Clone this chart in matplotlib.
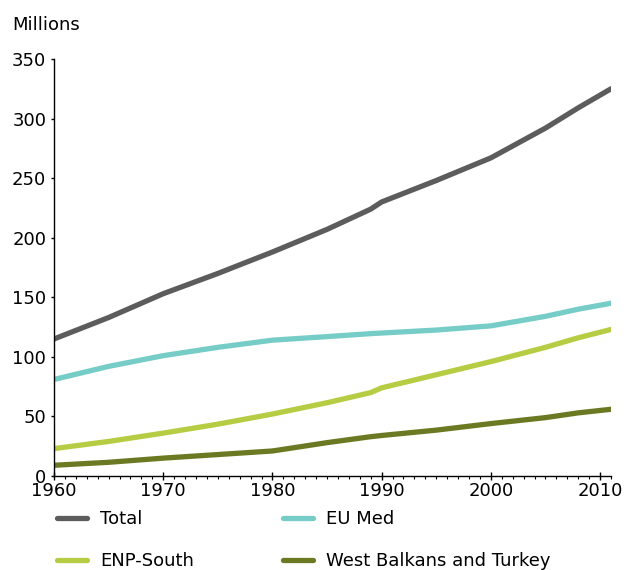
import matplotlib
matplotlib.use("Agg")
import matplotlib.pyplot as plt
from matplotlib.ticker import MultipleLocator

years = [1960, 1965, 1970, 1975, 1980, 1985, 1989, 1990, 1995, 2000, 2005, 2008, 2011]
total = [115, 133, 153, 170, 188, 207, 224, 230, 248, 267, 292, 309, 325]
eu_med = [81, 92, 101, 108, 114, 117, 119.5, 120, 122.5, 126, 134, 140, 145]
enp_south = [23, 29, 36, 43.5, 52, 61.5, 70, 74, 85, 96, 108, 116, 123]
wbt = [9, 11.5, 15, 18, 21, 28, 33, 34, 38.5, 44, 49, 53, 56]

series_labels = ["Total", "EU Med", "ENP-South", "West Balkans and Turkey"]
colors = ["#5c5c5c", "#76cdc8", "#b6cc43", "#6b7a22"]

plt.rcParams['font.family'] = ['DejaVu Sans']
fig = plt.figure(figsize=(6.28, 5.70), dpi=100)
ax = fig.add_axes([54/628, 1 - 476/570, (611 - 54)/628, (476 - 59)/570])

handles = []
for vals, lab, c in zip([total, eu_med, enp_south, wbt], series_labels, colors):
    h, = ax.plot(years, vals, color=c, lw=3.8, solid_capstyle='round',
                 solid_joinstyle='round', label=lab)
    handles.append(h)

ax.set_xlim(1960, 2011)
ax.set_ylim(0, 350)
ax.xaxis.set_major_locator(MultipleLocator(10))
ax.xaxis.set_minor_locator(MultipleLocator(1))
ax.yaxis.set_major_locator(MultipleLocator(50))
for s in ['top', 'right']:
    ax.spines[s].set_visible(False)
for s in ['left', 'bottom']:
    ax.spines[s].set_linewidth(1.0)
ax.tick_params(axis='y', which='major', labelsize=13, direction='out', length=2.5, width=1, pad=3)
ax.tick_params(axis='x', which='major', labelsize=13, direction='inout', length=6, width=1, pad=1)
ax.tick_params(axis='x', which='minor', direction='out', length=2.5, width=0.8)

fig.text(12/628, 1 - 25/570, "Millions", fontsize=13, va='center', ha='left')

order = [0, 2, 1, 3]
leg = fig.legend([handles[i] for i in order], [series_labels[i] for i in order],
                 ncol=2, loc='upper left', bbox_to_anchor=(57/628, 1 - 510/570),
                 frameon=False, fontsize=13, handlelength=1.66, labelspacing=1.32,
                 columnspacing=4.95, handletextpad=0.72, borderpad=0, borderaxespad=0)

fig.savefig("out.png", dpi=100)
